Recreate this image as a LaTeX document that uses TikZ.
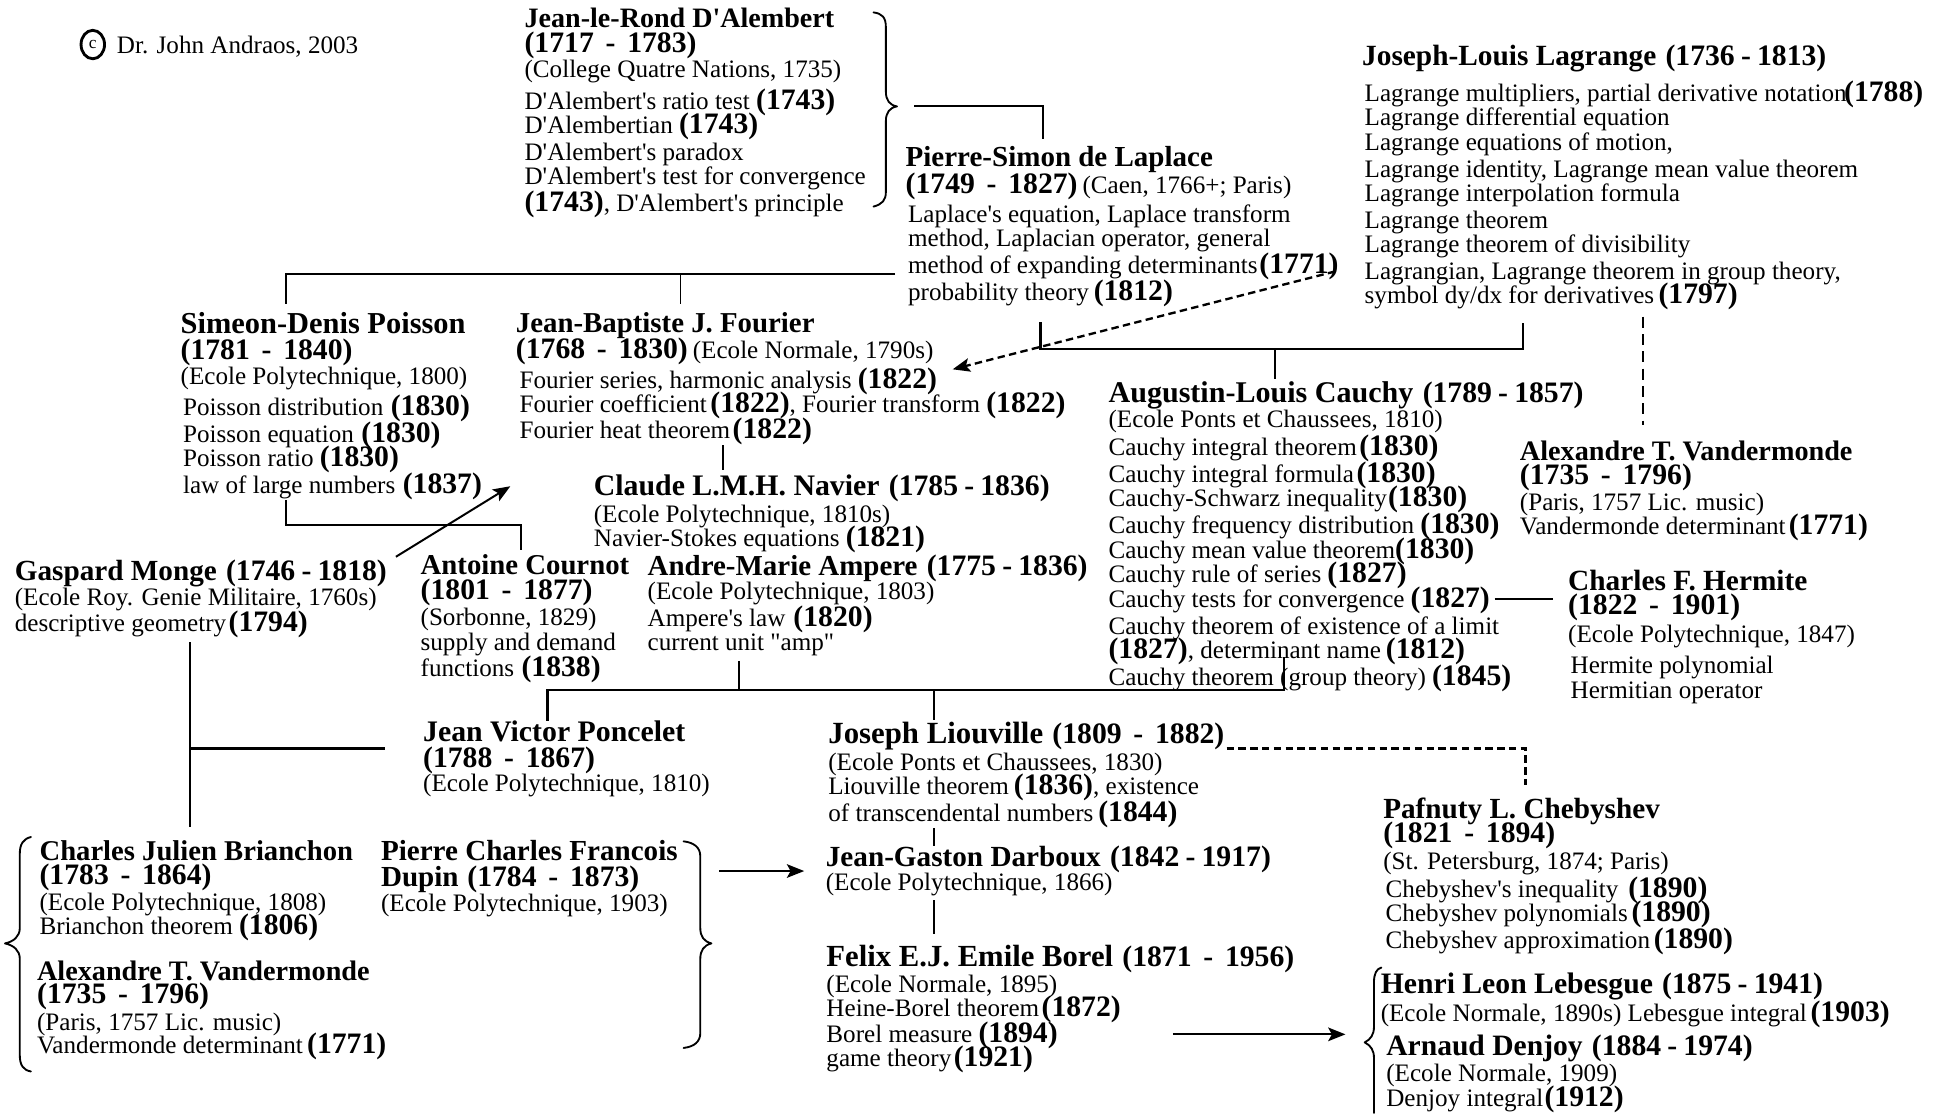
\documentclass[tikz,border=0pt]{standalone}
\usepackage{fontspec}
\usetikzlibrary{arrows.meta,shapes.geometric}
\newfontfamily\tms{Liberation Serif}
\newcommand{\B}[2][22.7]{{\fontsize{#1}{19}\selectfont\lineskiplimit-100pt\relax\bfseries #2}}
\newcommand{\Y}[1]{{\fontsize{24}{19}\selectfont\lineskiplimit-100pt\relax\bfseries\spaceskip 9.5pt\relax #1}}
\newcommand{\Z}[1]{\hspace{2.4pt}{\fontsize{24}{19}\selectfont\lineskiplimit-100pt\relax\bfseries\spaceskip 5pt\relax #1}}
\newcommand{\I}{\hspace*{2pt}}
\newcommand{\personfont}{\tms\fontsize{20.3}{19}\selectfont\lineskiplimit-100pt\relax}
\tikzset{
  person/.style={anchor=north west,inner sep=0pt,outer sep=0pt,yshift=16pt,align=left,
    font=\personfont,
    execute at begin node={\rule{0pt}{16pt}}},
  wire/.style={line width=1.7pt,line cap=butt,line join=miter},
  thinwire/.style={line width=1.6pt},
  dashwire/.style={line width=1.9pt,dash pattern=on 6pt off 3.5pt},
  headtip/.style={-{Stealth[length=14pt,width=11pt,inset=3pt]}},
  bracecurve/.style={line width=1.5pt,line cap=round,line join=round}
}
\begin{document}
\begin{tikzpicture}[x=1pt,y=-1pt]
\useasboundingbox (0,0) rectangle (1568,899.6);

% copyright
\node[ellipse,draw,line width=2.3pt,minimum width=19pt,minimum height=23pt,inner sep=0pt,
  font=\tms\fontsize{14}{14}\selectfont] (copymark) at (75,36) {c};
\node[person] (credit) at (94.5,43) {Dr. John Andraos, 2003};

% people
\node[person] (dalembert) at (424,22.5) {\B{Jean-le-Rond D'Alembert}\\[1.2pt]
\Y{(1717 - 1783)}\\[1.3pt]
(College Quatre Nations, 1735)\\[7pt]
D'Alembert's ratio test \Y{(1743)}\\
D'Alembertian \Y{(1743)}\\[3pt]
D'Alembert's paradox\\[0.5pt]
D'Alembert's test for convergence\\[2.5pt]
\Y{(1743)}, D'Alembert's principle};

\node[person] (laplace) at (732,134) {\B[23.45]{Pierre-Simon de Laplace}\\[3pt]
\Y{(1749 - 1827)}\hspace{4pt}(Caen, 1766+; Paris)\\[4.5pt]
\I Laplace's equation, Laplace transform\\[0.5pt]
\I method, Laplacian operator, general\\[3pt]
\I method of expanding determinants\hspace{1.5pt}\Y{(1771)}\\[2.5pt]
\I probability theory\hspace{4pt}\Y{(1812)}};

\node[person] (lagrange) at (1101,52) {\B[23.7]{Joseph-Louis Lagrange} \Z{(1736 - 1813)}\\[10pt]
\I Lagrange multipliers, partial derivative notation\hspace{-2pt}\Y{(1788)}\\[0.5pt]
\I Lagrange differential equation\\[1.5pt]
\I Lagrange equations of motion,\\[3pt]
\I Lagrange identity, Lagrange mean value theorem\\[0.5pt]
\I Lagrange interpolation formula\\[2.5pt]
\I Lagrange theorem\\[0.5pt]
\I Lagrange theorem of divisibility\\[2.5pt]
\I Lagrangian, Lagrange theorem in group theory,\\[0.5pt]
\I symbol dy/dx for derivatives\hspace{3.5pt}\Y{(1797)}};

\node[person] (poisson) at (146,268.5) {\B[24.6]{Simeon-Denis Poisson}\\[2pt]
\Y{(1781 - 1840)}\\[1pt]
(Ecole Polytechnique, 1800)\\[6.5pt]
\I Poisson distribution\hspace{6pt}\Y{(1830)}\\[2.5pt]
\I Poisson equation\hspace{6pt}\Y{(1830)}\\[0.5pt]
\I Poisson ratio\hspace{5pt}\Y{(1830)}\\[3pt]
\I law of large numbers\hspace{6pt}\Y{(1837)}};

\node[person] (fourier) at (417,268.5) {\B[23.3]{Jean-Baptiste J. Fourier}\\[2pt]
\Y{(1768 - 1830)}\hspace{4pt}(Ecole Normale, 1790s)\\[5.5pt]
\hspace*{3pt}Fourier series, harmonic analysis\hspace{5pt}\Y{(1822)}\\[0.5pt]
\hspace*{3pt}Fourier coefficient\hspace{3pt}\Y{(1822)}, Fourier transform \Y{(1822)}\\[2pt]
\hspace*{3pt}Fourier heat theorem\hspace{2pt}\Y{(1822)}};

\node[person] (navier) at (480,400) {\B[24.1]{Claude L.M.H. Navier} \Z{(1785 - 1836)}\\[2.5pt]
(Ecole Polytechnique, 1810s)\\[0.5pt]
Navier-Stokes equations \Y{(1821)}};

\node[person] (monge) at (12,468.6) {\B[23.6]{Gaspard Monge} \Z{(1746 - 1818)}\\[1.4pt]
(Ecole Roy. Genie Militaire, 1760s)\\[2pt]
descriptive geometry\hspace{2pt}\Y{(1794)}};

\node[person] (cournot) at (340,464.3) {\B[23.25]{Antoine Cournot}\\[0.7pt]
\Y{(1801 - 1877)}\\[2.6pt]
(Sorbonne, 1829)\\[0.9pt]
supply and demand\\[2.1pt]
functions\hspace{6pt}\Y{(1838)}};

\node[person] (ampere) at (523.5,464.3) {\B[23.4]{Andre-Marie Ampere} \Z{(1775 - 1836)}\\[0.7pt]
(Ecole Polytechnique, 1803)\\[2.6pt]
Ampere's law\hspace{6.5pt}\Y{(1820)}\\[0.9pt]
current unit "amp"};

\node[person] (cauchy) at (896,324.8) {\B[24.3]{Augustin-Louis Cauchy} \Z{(1789 - 1857)}\\[0.6pt]
(Ecole Ponts et Chaussees, 1810)\\[4.1pt]
Cauchy integral theorem\hspace{2pt}\Y{(1830)}\\[2.5pt]
Cauchy integral formula\hspace{2pt}\Y{(1830)}\\[0.5pt]
Cauchy-Schwarz inequality\hspace{1pt}\Y{(1830)}\\[3.2pt]
Cauchy frequency distribution \Y{(1830)}\\[0.6pt]
Cauchy mean value theorem\Y{(1830)}\\[0.7pt]
Cauchy rule of series\hspace{5pt}\Y{(1827)}\\[1.3pt]
Cauchy tests for convergence\hspace{5pt}\Y{(1827)}\\[2.7pt]
Cauchy theorem of existence of a limit\\[0.6pt]
\Y{(1827)}, determinant name\hspace{4pt}\Y{(1812)}\\[2.6pt]
Cauchy theorem (group theory)\hspace{5pt}\Y{(1845)}};

\node[person] (vandermondeA) at (1228.5,372.4) {\B[22.8]{Alexandre T. Vandermonde}\\[0.3pt]
\Y{(1735 - 1796)}\\[2.1pt]
(Paris, 1757 Lic. music)\\[0.2pt]
Vandermonde determinant\hspace{2.5pt}\Y{(1771)}};

\node[person] (hermite) at (1267.5,476.7) {\B[23.7]{Charles F. Hermite}\\[0.9pt]
\Y{(1822 - 1901)}\\[3pt]
(Ecole Polytechnique, 1847)\\[6.7pt]
\I Hermite polynomial\\[0.7pt]
\I Hermitian operator};

\node[person] (poncelet) at (342,598.6) {\B[24.1]{Jean Victor Poncelet}\\[2pt]
\Y{(1788 - 1867)}\\[0.4pt]
(Ecole Polytechnique, 1810)};

\node[person] (liouville) at (669.5,600) {\B[24.9]{Joseph Liouville} \hspace{2.4pt}\Y{(1809 - 1882)}\\[2.7pt]
(Ecole Ponts et Chaussees, 1830)\\[0.3pt]
Liouville theorem\hspace{4pt}\Y{(1836)}, existence\\[3pt]
of transcendental numbers\hspace{4pt}\Y{(1844)}};

\node[person] (darboux) at (667.5,699.6) {\B[23.6]{Jean-Gaston Darboux} \Z{(1842 - 1917)}\\[0.4pt]
(Ecole Polytechnique, 1866)};

\node[person] (borel) at (668,779.6) {\B[24.8]{Felix E.J. Emile Borel} \hspace{2.4pt}\Y{(1871 - 1956)}\\[2pt]
(Ecole Normale, 1895)\\[0.4pt]
Heine-Borel theorem\hspace{2pt}\Y{(1872)}\\[2.6pt]
Borel measure \Y{(1894)}\\[0.4pt]
game theory\hspace{2pt}\Y{(1921)}};

\node[person] (brianchon) at (32,695.3) {\B[23.15]{Charles Julien Brianchon}\\[0.3pt]
\Y{(1783 - 1864)}\\[2.1pt]
(Ecole Polytechnique, 1808)\\[0.6pt]
Brianchon theorem \Y{(1806)}};

\node[person] (vandermondeB) at (30,792.5) {\B[22.8]{Alexandre T. Vandermonde}\\[0.1pt]
\Y{(1735 - 1796)}\\[2.4pt]
(Paris, 1757 Lic. music)\\
Vandermonde determinant\hspace{3.5pt}\Y{(1771)}};

\node[person] (dupin) at (308,695.3) {\B[23.5]{Pierre Charles Francois}\\[2pt]
\B[23.5]{Dupin} \hspace{2pt}\Y{(1784 - 1873)}\\[1.2pt]
(Ecole Polytechnique, 1903)};

\node[person] (chebyshev) at (1118,660.6) {\B[23.6]{Pafnuty L. Chebyshev}\\[0.7pt]
\Y{(1821 - 1894)}\\[2.7pt]
(St. Petersburg, 1874; Paris)\\[4pt]
\I Chebyshev's inequality\hspace{8pt}\Y{(1890)}\\[0.3pt]
\I Chebyshev polynomials\hspace{3pt}\Y{(1890)}\\[2.7pt]
\I Chebyshev approximation\hspace{3pt}\Y{(1890)}};

\node[person] (lebesgue) at (1116,802.7) {\B[24]{Henri Leon Lebesgue} \Z{(1875 - 1941)}\\[2.9pt]
(Ecole Normale, 1890s) Lebesgue integral\hspace{3pt}\Y{(1903)}};

\node[person] (denjoy) at (1120.5,852.6) {\B[23.9]{Arnaud Denjoy} \Z{(1884 - 1974)}\\[2.1pt]
(Ecole Normale, 1909)\\[1.3pt]
Denjoy integral\hspace{1pt}\Y{(1912)}};

% junction coordinates
\coordinate (dalStart) at (739,85.7);
\coordinate (dalCorner) at (843,85.7);
\coordinate (busAr) at (723.5,221.7);
\coordinate (busAm) at (550,221.7);
\coordinate (busAl) at (231,221.7);
\coordinate (navTap) at (584.5,380);
\coordinate (pcL) at (231,424.4);
\coordinate (pcR) at (421,424.4);
\coordinate (mongeStart) at (320,450);
\coordinate (mongeEnd) at (412.5,393);
\coordinate (busBl) at (841,282);
\coordinate (busBm) at (1030.5,282);
\coordinate (busBr) at (1231,282);
\coordinate (dashStart) at (1079,219.4);
\coordinate (dashEnd) at (770,298.5);
\coordinate (vandTap) at (1328,300);
\coordinate (cauchyOut) at (1208,484);
\coordinate (mongeTrunk) at (153.5,605);
\coordinate (busCl) at (442.5,557.6);
\coordinate (busCm) at (597.5,557.6);
\coordinate (busCt) at (754.5,557.6);
\coordinate (busCr) at (1037.5,557.6);
\coordinate (busCup) at (1037.5,530.7);
\coordinate (dtap) at (754.5,690);
\coordinate (liouOut) at (991.5,605);
\coordinate (liouCorner) at (1233,605);
\coordinate (braceOut) at (581.5,704);
\coordinate (borelOut) at (948,836);

% connectors
\draw[wire,shorten >=5.4pt] (dalStart) -- (dalCorner) -- (laplace.north -| dalCorner);
\draw[wire,shorten >=6.5pt] (busAr) -- (busAl) -- (poisson.north -| busAl);
\draw[thinwire,shorten >=6.5pt] (busAm) -- (fourier.north -| busAm);
\draw[thinwire,shorten >=4pt] (fourier.south -| navTap) -- (navier.north -| navTap);
\draw[wire,shorten >=3.7pt] (poisson.south -| pcL) -- (pcL) -- (pcR) -- (cournot.north -| pcR);
\draw[thinwire,headtip] (mongeStart) -- (mongeEnd);
\draw[wire,shorten <=12.7pt,shorten >=10.7pt] (laplace.south -| busBl) -- (busBl) -- (busBr) -- (lagrange.south -| busBr);
\draw[thinwire,shorten >=2.8pt] (busBm) -- (cauchy.north -| busBm);
\draw[dashwire,headtip] (dashStart) -- (dashEnd);
\draw[line width=1.6pt,dash pattern=on 9pt off 5pt,shorten <=5.7pt,shorten >=12.9pt] (lagrange.south -| vandTap) -- (vandermondeA.north -| vandTap);
\draw[wire,shorten >=12pt] (cauchyOut) -- (cauchyOut -| hermite.west);
\draw[thinwire,shorten <=3.2pt,shorten >=10.6pt] (monge.south -| mongeTrunk) -- (brianchon.north -| mongeTrunk);
\draw[wire,shorten >=30.5pt] (mongeTrunk) -- (mongeTrunk -| poncelet.west);
\draw[thinwire,shorten <=3.6pt] (ampere.south -| busCm) -- (busCm);
\draw[wire] (poncelet.north -| busCl) -- (busCl) -- (busCr) -- (busCup);
\draw[thinwire,shorten >=2pt] (busCt) -- (liouville.north -| busCt);
\draw[thinwire] (liouville.south -| dtap) -- (darboux.north -| dtap);
\draw[thinwire,shorten <=3.5pt,shorten >=8.6pt] (darboux.south -| dtap) -- (borel.north -| dtap);
\draw[dashwire,shorten >=10pt] (liouOut) -- (liouCorner) -- (chebyshev.north -| liouCorner);
\draw[wire,headtip,shorten >=17.5pt] (braceOut) -- (braceOut -| darboux.west);
\draw[wire,headtip,shorten >=28.5pt] (borelOut) -- (borelOut -| lebesgue.west);

% braces
\draw[bracecurve] (706,10) .. controls (713,11) and (716,14) .. (716,22) -- (716,74)
  .. controls (716,81) and (719,85) .. (725,86) .. controls (719,87) and (716,91) .. (716,98)
  -- (716,155) .. controls (716,162) and (713,165) .. (706,167);
\draw[bracecurve] (25,676.5) .. controls (19,678) and (16,682) .. (16,690) -- (16,750)
  .. controls (16,757) and (11,761) .. (4,762.5) .. controls (11,764) and (16,768) .. (16,775)
  -- (16,853) .. controls (16,861) and (19,865) .. (25,866);
\draw[bracecurve] (552.5,680) .. controls (561,681) and (566,685) .. (566,692) -- (566,750)
  .. controls (566,757) and (569,761) .. (575,762.5) .. controls (569,764) and (566,768) .. (566,775)
  -- (566,835) .. controls (566,842) and (561,846) .. (552.5,847);
\draw[bracecurve] (1116.5,782) .. controls (1112.5,783) and (1110.5,787) .. (1110.5,794) -- (1110.5,830)
  .. controls (1110.5,836) and (1108,840) .. (1103,842.5) .. controls (1108,845) and (1110.5,849) .. (1110.5,855)
  -- (1110.5,899.6);
\end{tikzpicture}
\end{document}
